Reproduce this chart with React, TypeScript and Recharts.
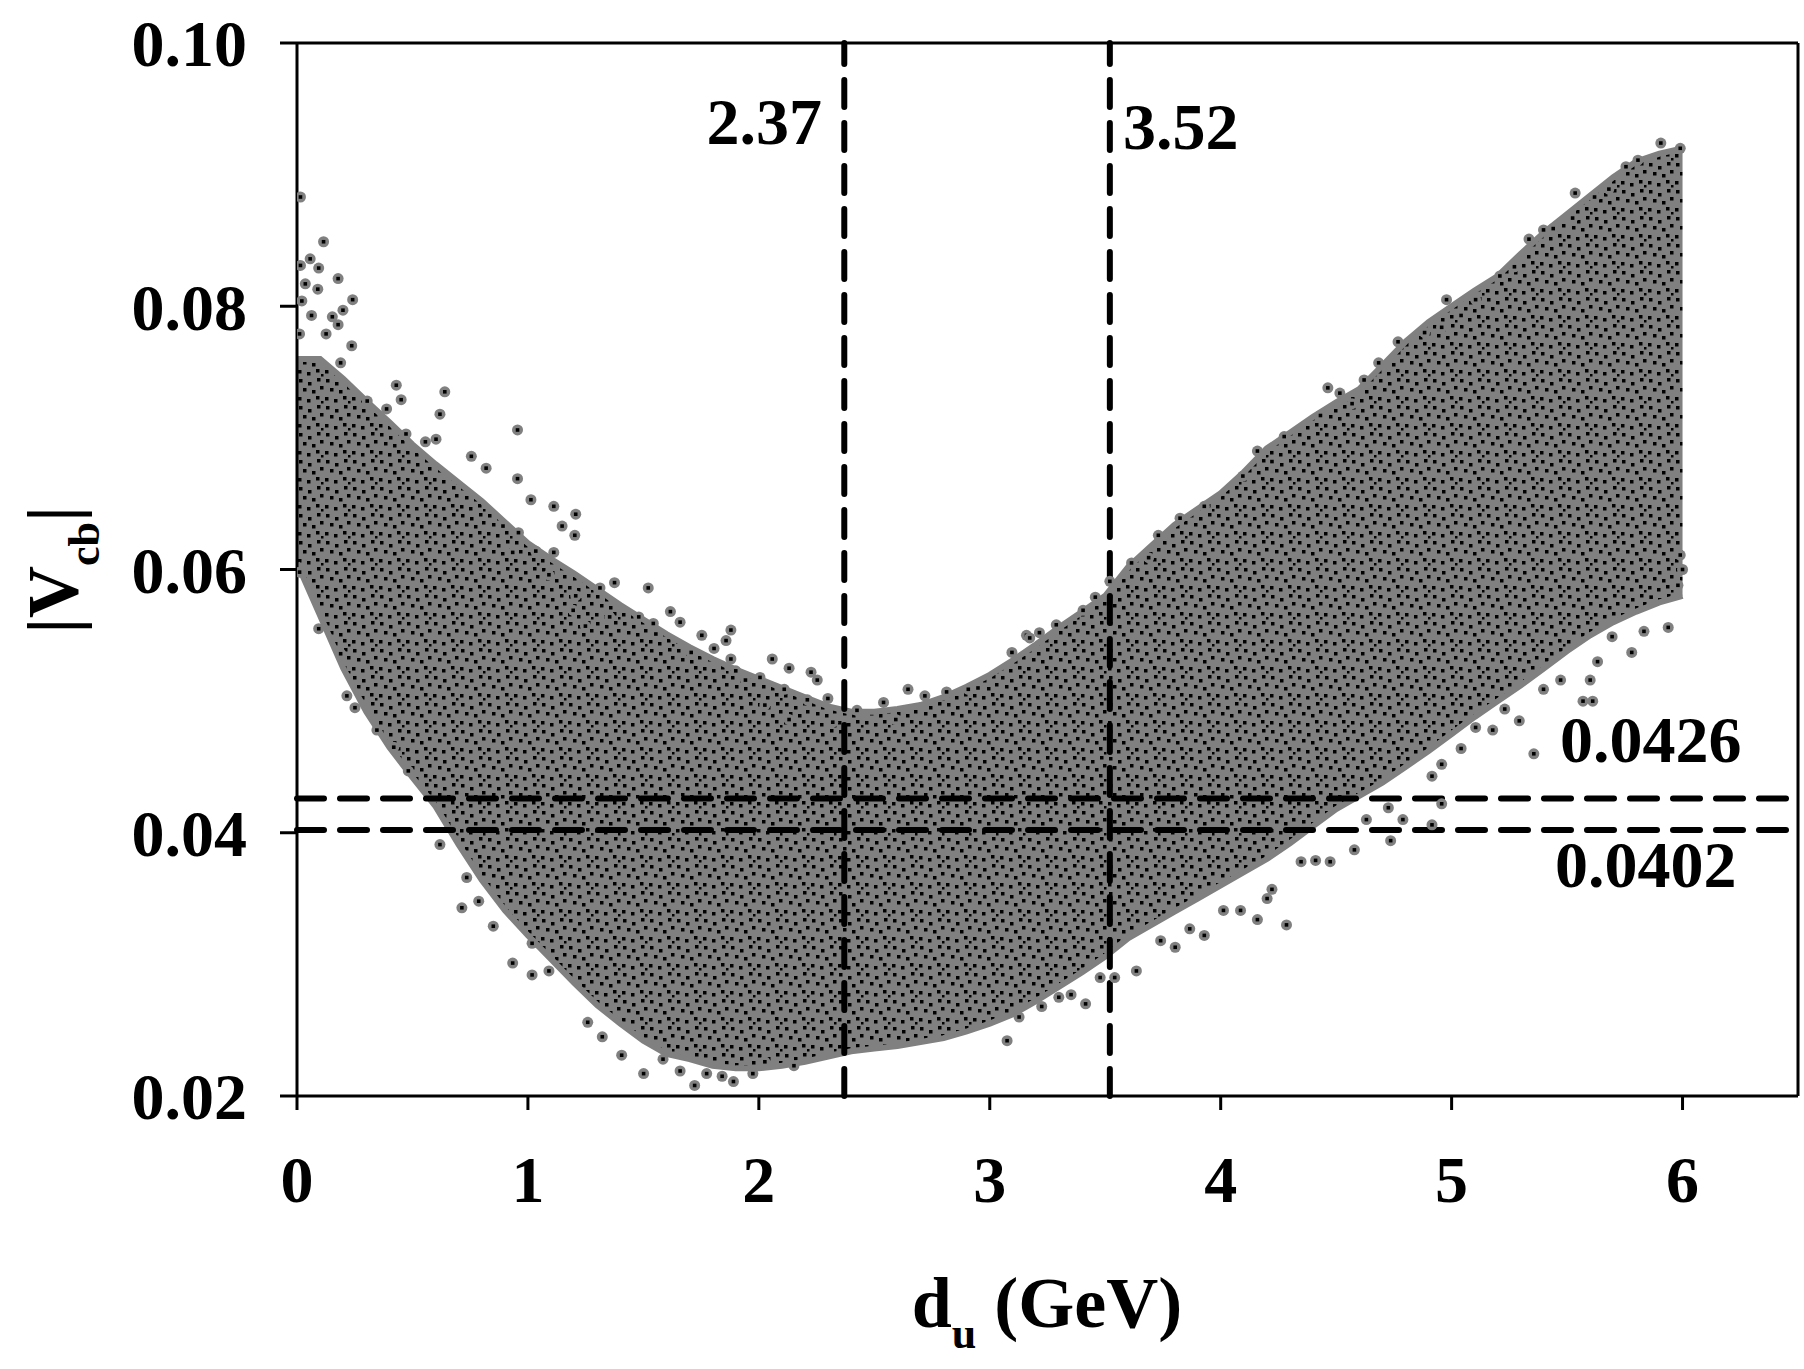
import React from 'react';
import { ComposedChart, Area, Scatter, XAxis, YAxis, ReferenceLine } from 'recharts';

// Envelope of the dense point cloud
const bandX = [0.0, 0.1, 0.2, 0.3, 0.4, 0.5, 0.6, 0.7, 0.8, 0.9, 1.0, 1.1, 1.2, 1.3, 1.4, 1.5, 1.6, 1.7, 1.8, 1.9, 2.0, 2.1, 2.2, 2.3, 2.4, 2.5, 2.6, 2.7, 2.8, 2.9, 3.0, 3.1, 3.2, 3.3, 3.4, 3.5, 3.6, 3.7, 3.8, 3.9, 4.0, 4.1, 4.2, 4.3, 4.4, 4.5, 4.6, 4.7, 4.8, 4.9, 5.0, 5.1, 5.2, 5.3, 5.4, 5.5, 5.6, 5.7, 5.8, 5.9, 6.0];
const bandLow = [0.0605, 0.0565, 0.0525, 0.0492, 0.0465, 0.0442, 0.042, 0.0391, 0.0364, 0.0341, 0.0322, 0.0304, 0.0286, 0.0269, 0.0255, 0.0242, 0.0232, 0.0228, 0.0223, 0.0221, 0.0221, 0.0223, 0.0226, 0.023, 0.0234, 0.0236, 0.0238, 0.0241, 0.0244, 0.0249, 0.0255, 0.0262, 0.0272, 0.0283, 0.0294, 0.0306, 0.032, 0.033, 0.034, 0.035, 0.036, 0.037, 0.038, 0.0392, 0.0405, 0.0418, 0.0428, 0.0438, 0.045, 0.0462, 0.0475, 0.0488, 0.05, 0.0512, 0.0525, 0.0538, 0.055, 0.056, 0.0568, 0.0575, 0.058];
const bandHigh = [0.076, 0.076, 0.0745, 0.0728, 0.0712, 0.0695, 0.068, 0.0666, 0.0652, 0.0636, 0.062, 0.0608, 0.0597, 0.0585, 0.0573, 0.0562, 0.0551, 0.0541, 0.0532, 0.0524, 0.0517, 0.051, 0.0503, 0.0496, 0.0492, 0.0492, 0.0494, 0.0497, 0.0503, 0.0511, 0.052, 0.0531, 0.0543, 0.0556, 0.0568, 0.058, 0.0602, 0.0618, 0.0634, 0.0646, 0.0658, 0.0674, 0.0692, 0.0704, 0.0716, 0.0727, 0.0737, 0.0755, 0.0773, 0.0788, 0.08, 0.0812, 0.0823, 0.084, 0.0856, 0.087, 0.0884, 0.0898, 0.091, 0.0916, 0.092];

// Sparse points around the edges of the cloud
const edgeX = [
  0.015, 0.115, 0.015, 0.057, 0.094, 0.178, 0.036, 0.09, 0.241, 0.021, 0.199, 0.153, 0.063, 0.178, 0.126, 0.011, 0.237, 0.189, 0.43, 0.64, 0.304, 0.451, 0.619, 0.955, 0.388, 0.472, 0.556, 0.602, 0.755, 0.819, 0.955, 1.013, 1.112, 1.207, 1.148, 1.203, 0.892, 0.959, 1.034, 1.112, 0.934, 1.091, 1.312, 1.375, 1.521, 1.207, 1.196, 1.249, 1.354, 1.48, 1.543, 1.659, 1.617, 1.554, 1.753, 1.879, 1.858, 1.707, 1.806, 1.879, 1.9, 1.942, 2.005, 2.058, 2.131, 2.226, 2.253, 2.299, 2.21, 2.11, 2.026, 2.131, 2.32, 2.425, 2.54, 2.593, 2.646, 2.719, 2.813, 2.907, 2.949, 3.096, 3.159,
  0.011, 0.094, 0.189, 0.216, 0.251, 0.346, 0.419, 0.482, 0.619, 0.714, 0.735, 0.787, 0.85, 0.934, 1.018, 1.091, 1.018, 1.259, 1.322, 1.406, 1.501, 1.585, 1.659, 1.722, 1.774, 1.841, 1.89, 1.974, 2.026, 2.152, 3.075, 3.127,
  5.906, 5.99, 5.807, 5.755, 5.681, 5.535, 5.619, 5.524, 5.398, 5.44, 5.335, 5.272, 5.209, 5.104, 4.978, 5.041, 4.957, 4.768, 4.883, 4.684, 4.621, 4.464, 4.516, 4.569, 4.432, 4.275, 4.159, 4.222, 4.096, 3.929, 3.824, 3.73, 3.688, 3.614, 3.52, 3.457, 3.404, 3.288, 3.215, 3.173,
  5.99, 6.0, 5.98, 5.938, 5.864, 5.78, 5.833, 5.695, 5.632, 5.6, 5.569, 5.611, 5.472, 5.398, 5.293, 5.356, 5.178, 5.23, 5.104, 5.041, 4.957, 4.915, 4.957, 4.915, 4.789, 4.726, 4.736, 4.631, 4.579, 4.474, 4.411, 4.348, 4.285, 4.159, 4.222, 4.201, 4.086, 4.012, 3.929, 3.866, 3.803, 3.74, 3.635, 3.541, 3.478, 3.415, 3.352, 3.299, 3.225,
];
const edgeY = [
  0.0883, 0.0849, 0.0831, 0.0836, 0.0829, 0.0821, 0.0817, 0.0813, 0.0805, 0.0804, 0.0797, 0.0792, 0.0793, 0.0786, 0.0779, 0.0779, 0.077, 0.0757, 0.074, 0.0735, 0.0728, 0.0729, 0.0718, 0.0706, 0.0722, 0.0703, 0.0697, 0.0699, 0.0686, 0.0677, 0.0669, 0.0653, 0.0648, 0.0642, 0.0633, 0.0626, 0.0633, 0.0628, 0.0614, 0.0613, 0.0613, 0.0596, 0.0586, 0.059, 0.0586, 0.058, 0.0569, 0.0557, 0.0564, 0.0564, 0.0559, 0.056, 0.0568, 0.0551, 0.055, 0.0554, 0.0546, 0.0537, 0.054, 0.0532, 0.0523, 0.0516, 0.0518, 0.0532, 0.0525, 0.0522, 0.0516, 0.0502, 0.0501, 0.0509, 0.0497, 0.0486, 0.0484, 0.0493, 0.0499, 0.0486, 0.0509, 0.0504, 0.0507, 0.0509, 0.051, 0.0537, 0.055,
  0.0598, 0.0555, 0.0536, 0.0504, 0.0495, 0.0478, 0.0465, 0.0447, 0.0391, 0.0343, 0.0366, 0.0348, 0.0329, 0.0301, 0.0292, 0.0295, 0.0316, 0.0256, 0.0245, 0.0231, 0.0217, 0.0228, 0.0219, 0.0208, 0.0217, 0.0215, 0.0211, 0.0217, 0.0226, 0.0223, 0.0242, 0.026,
  0.0924, 0.092, 0.0911, 0.0906, 0.0889, 0.0886, 0.0883, 0.0867, 0.0858, 0.0859, 0.0851, 0.083, 0.0823, 0.0805, 0.0805, 0.0793, 0.0784, 0.0773, 0.078, 0.0757, 0.0744, 0.0738, 0.0734, 0.0726, 0.0717, 0.0701, 0.069, 0.0682, 0.0671, 0.0648, 0.0639, 0.0626, 0.0609, 0.0605, 0.0591, 0.0579, 0.0569, 0.0558, 0.0552, 0.0548,
  0.0611, 0.06, 0.0588, 0.0556, 0.0579, 0.0537, 0.0553, 0.0549, 0.053, 0.0516, 0.05, 0.05, 0.0516, 0.0509, 0.0485, 0.046, 0.0478, 0.0494, 0.048, 0.0464, 0.0452, 0.0443, 0.0422, 0.0406, 0.041, 0.0419, 0.0394, 0.041, 0.0387, 0.0378, 0.0379, 0.0378, 0.033, 0.0334, 0.0357, 0.035, 0.0341, 0.0341, 0.0322, 0.0327, 0.0313, 0.0318, 0.0295, 0.029, 0.029, 0.027, 0.0277, 0.0275, 0.0268,
];

const refXValues = [2.37, 3.52];
const refYValues = [0.0426, 0.0402];
const xTicks = [0, 1, 2, 3, 4, 5, 6];
const yTicks = [0.02, 0.04, 0.06, 0.08, 0.1];

const bandData = bandX.map((x, i) => ({ x, band: [bandLow[i], bandHigh[i]] }));
const edgeData = edgeX.map((x, i) => ({ x, y: edgeY[i] }));

const FONT = "'Liberation Serif', 'Times New Roman', serif";
const W = 1804;
const H = 1369;

const tickStyle = { fill: '#000', fontSize: 66, fontWeight: 700, fontFamily: FONT };

const Dot = (props: any) => {
  const { cx, cy } = props;
  if (cx == null || cy == null) return null;
  return (
    <g>
      <circle cx={cx} cy={cy} r={5.5} fill="#808080" />
      <rect x={cx - 1.8} y={cy - 1.8} width={3.6} height={3.6} fill="#000" />
    </g>
  );
};

const dashProps = { stroke: '#000', strokeWidth: 6, strokeDasharray: '27 16', strokeLinecap: 'round' as const };

export default function App() {
  return (
    <div style={{ position: 'absolute', left: 0, top: 0, width: W, height: H, background: '#fff' }}>
      <ComposedChart
        width={W}
        height={H}
        data={bandData}
        margin={{ top: 43, right: 6, bottom: 153, left: 147 }}
      >
        <defs>
          <pattern id="cloud" patternUnits="userSpaceOnUse" width="27" height="27">
            <rect x="0" y="0" width="27" height="27" fill="#808080" />
            <rect x="2" y="1" width="3.5" height="3.5" fill="#000" />
            <rect x="11" y="4" width="3.5" height="3.5" fill="#000" />
            <rect x="20" y="0" width="3.5" height="3.5" fill="#000" />
            <rect x="6" y="10" width="3.5" height="3.5" fill="#000" />
            <rect x="15" y="12" width="3.5" height="3.5" fill="#000" />
            <rect x="23" y="8" width="3.5" height="3.5" fill="#000" />
            <rect x="1" y="19" width="3.5" height="3.5" fill="#000" />
            <rect x="10" y="21" width="3.5" height="3.5" fill="#000" />
            <rect x="19" y="18" width="3.5" height="3.5" fill="#000" />
            <rect x="24" y="23" width="2.5" height="2.5" fill="#000" />
          </pattern>
        </defs>
        <XAxis
          dataKey="x"
          type="number"
          domain={[0, 6.5]}
          ticks={xTicks}
          allowDataOverflow
          height={120}
          tickSize={14}
          tickMargin={45}
          axisLine={{ stroke: '#000', strokeWidth: 3 }}
          tickLine={{ stroke: '#000', strokeWidth: 3 }}
          tick={tickStyle}
          interval={0}
        />
        <YAxis
          dataKey="y"
          type="number"
          domain={[0.02, 0.1]}
          ticks={yTicks}
          allowDataOverflow
          width={150}
          tickSize={17}
          tickMargin={33}
          axisLine={{ stroke: '#000', strokeWidth: 3 }}
          tickLine={{ stroke: '#000', strokeWidth: 3 }}
          tick={tickStyle}
          tickFormatter={(v: number) => v.toFixed(2)}
          interval={0}
        />
        <Area
          dataKey="band"
          type="linear"
          fill="url(#cloud)"
          fillOpacity={1}
          stroke="#808080"
          strokeWidth={6}
          isAnimationActive={false}
          dot={false}
          activeDot={false}
        />
        <Scatter data={edgeData} dataKey="y" shape={Dot} isAnimationActive={false} />
        <ReferenceLine y={0.1} stroke="#000" strokeWidth={3} />
        <ReferenceLine x={6.5} stroke="#000" strokeWidth={3} />
        {refXValues.map((v) => (
          <ReferenceLine key={'vx' + v} x={v} {...dashProps} />
        ))}
        {refYValues.map((v) => (
          <ReferenceLine key={'hy' + v} y={v} {...dashProps} />
        ))}
      </ComposedChart>
      <svg
        width={W}
        height={H}
        style={{ position: 'absolute', left: 0, top: 0, pointerEvents: 'none' }}
        fontFamily={FONT}
        fontWeight={700}
      >
        <text x={822} y={144} fontSize={66} textAnchor="end" fill="#000">2.37</text>
        <text x={1123} y={149} fontSize={66} textAnchor="start" fill="#000">3.52</text>
        <text x={1560} y={762} fontSize={66} textAnchor="start" fill="#000">0.0426</text>
        <text x={1555} y={887} fontSize={66} textAnchor="start" fill="#000">0.0402</text>
        <text x={1047} y={1327} fontSize={72} textAnchor="middle" fill="#000">
          d<tspan fontSize={44} dy={21}>u</tspan>
          <tspan dy={-21}>{'\u00a0(GeV)'}</tspan>
        </text>
        <text transform="translate(77,570) rotate(-90)" fontSize={72} textAnchor="middle" fill="#000">
          |V<tspan fontSize={44} dy={22}>cb</tspan>
          <tspan dy={-22}>|</tspan>
        </text>
      </svg>
    </div>
  );
}
